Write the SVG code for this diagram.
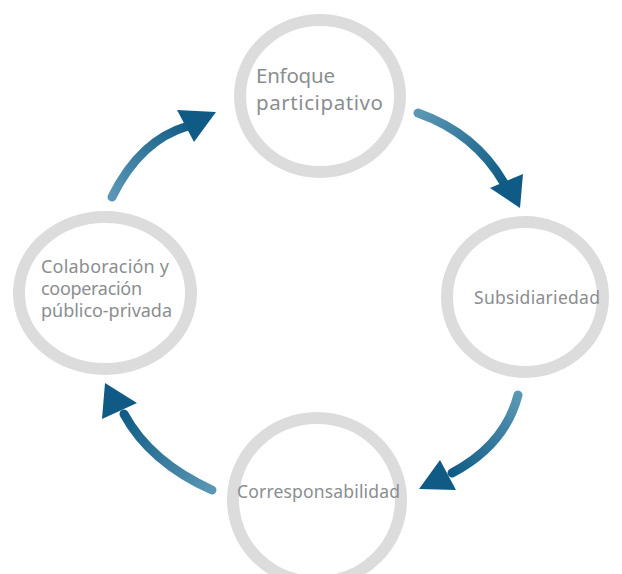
<svg xmlns="http://www.w3.org/2000/svg" width="622" height="574" viewBox="0 0 622 574">
<defs>
<style>
.ring{fill:#ffffff;stroke:#dcdcdc;stroke-width:12}
.lbl{font-family:"Noto Sans","Open Sans","DejaVu Sans",sans-serif;fill:#8a8e90}
.shaft{fill:none;stroke-width:9;stroke-linecap:round}
.head{fill:#0f5b85}
</style>
<linearGradient id="g1" gradientUnits="userSpaceOnUse" x1="112" y1="197" x2="192" y2="124"><stop offset="0" stop-color="#5a97b4"/><stop offset="1" stop-color="#0f5b85"/></linearGradient>
<linearGradient id="g2" gradientUnits="userSpaceOnUse" x1="418" y1="113" x2="505" y2="183"><stop offset="0" stop-color="#5a97b4"/><stop offset="1" stop-color="#0f5b85"/></linearGradient>
<linearGradient id="g3" gradientUnits="userSpaceOnUse" x1="518" y1="395" x2="450" y2="474"><stop offset="0" stop-color="#5a97b4"/><stop offset="1" stop-color="#0f5b85"/></linearGradient>
<linearGradient id="g4" gradientUnits="userSpaceOnUse" x1="212" y1="490" x2="122" y2="412"><stop offset="0" stop-color="#5a97b4"/><stop offset="1" stop-color="#0f5b85"/></linearGradient>
</defs>
<rect width="622" height="574" fill="#ffffff"/>
<g id="connectors">
<path class="shaft" stroke="url(#g1)" d="M112,197 Q140,140 188,126"/>
<polygon class="head" points="216,112 177,110 194,142"/>
<path class="shaft" stroke="url(#g2)" d="M418,113 Q475,133 504,183"/>
<polygon class="head" points="490,188 523,174 520,208"/>
<path class="shaft" stroke="url(#g3)" d="M518,395 Q505,445 452,473"/>
<polygon class="head" points="440,460 456,490 419,489"/>
<path class="shaft" stroke="url(#g4)" d="M212,490 Q150,462 124,414"/>
<polygon class="head" points="105,383 102,419 137,403"/>
</g>
<g id="node-enfoque">
<ellipse class="ring" cx="320" cy="96" rx="80" ry="76"/>
<text class="lbl" font-size="20.5" x="256" y="83" textLength="79">Enfoque</text>
<text class="lbl" font-size="20.5" x="256" y="110" textLength="127">participativo</text>
</g>
<g id="node-subsidiariedad">
<ellipse class="ring" cx="525" cy="297" rx="78" ry="75"/>
<text class="lbl" font-size="17.5" x="474" y="304" textLength="126">Subsidiariedad</text>
</g>
<g id="node-corresponsabilidad">
<ellipse class="ring" cx="317" cy="500" rx="84" ry="82"/>
<text class="lbl" font-size="17.5" x="237" y="498" textLength="163">Corresponsabilidad</text>
</g>
<g id="node-colaboracion">
<ellipse class="ring" cx="105" cy="293" rx="86" ry="76"/>
<text class="lbl" font-size="18" x="41" y="273" textLength="128">Colaboración y</text>
<text class="lbl" font-size="18" x="41" y="295" textLength="101">cooperación</text>
<text class="lbl" font-size="18" x="41" y="317" textLength="131">público-privada</text>
</g>
</svg>
